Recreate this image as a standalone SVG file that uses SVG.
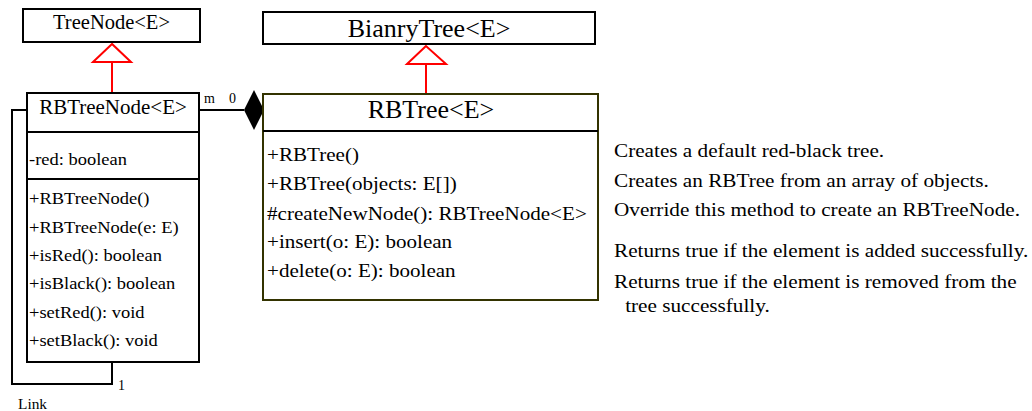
<svg xmlns="http://www.w3.org/2000/svg" width="1032" height="411" viewBox="0 0 1032 411">
<style>
text{font-family:"Liberation Serif","Times New Roman",serif;fill:#000}
.box{fill:#fff;stroke:#000;stroke-width:2}
.olive{fill:#fff;stroke:#333300;stroke-width:2}
.div{stroke:#000;stroke-width:2}
.h1{font-size:20.5px;text-anchor:middle}
.h2{font-size:26px;text-anchor:middle}
.b1{font-size:16.5px}
.b2{font-size:18.5px}
.d{font-size:19px}
.lbl{font-size:14px}
.inh{stroke:#ff0000;stroke-width:2;fill:none}
.tri{stroke:#ff0000;stroke-width:2;fill:#fff}
.ln{stroke:#000;stroke-width:2;fill:none}
</style>
<g id="connectors">
  <line class="inh" x1="112" y1="62" x2="112" y2="93"/>
  <polygon class="tri" points="112,44 93,62 131,62"/>
  <line class="inh" x1="426" y1="64" x2="426" y2="94"/>
  <polygon class="tri" points="426,46 407,64 446,64"/>
  <line class="ln" x1="199" y1="110" x2="244" y2="110"/>
  <polygon points="244,110 254,90 264,110 254,130" fill="#000"/>
  <polyline class="ln" points="27,110 12,110 12,384 112,384 112,362"/>
  <text class="lbl" x="204" y="103">m</text>
  <text class="lbl" x="229" y="103">0</text>
  <text class="lbl" x="118" y="390">1</text>
  <text class="lbl" transform="translate(18,409) scale(1.1,1)">Link</text>
</g>
<g id="node-treenode">
  <rect class="box" x="23" y="9" width="177" height="33"/>
  <text class="h1" x="111.5" y="29">TreeNode&lt;E&gt;</text>
</g>
<g id="node-bianrytree">
  <rect class="box" x="263" y="12" width="332" height="32"/>
  <text class="h2" x="429" y="37">BianryTree&lt;E&gt;</text>
</g>
<g id="node-rbtreenode">
  <rect class="box" x="27" y="93" width="172" height="269"/>
  <line class="div" x1="27" y1="132" x2="199" y2="132"/>
  <line class="div" x1="27" y1="179" x2="199" y2="179"/>
  <text class="h1" x="113" y="114" style="font-size:21px">RBTreeNode&lt;E&gt;</text>
  <g class="b1" transform="translate(29,0) scale(1.12,1)">
    <text x="0" y="165">-red: boolean</text>
    <text x="0" y="204">+RBTreeNode()</text>
    <text x="0" y="233">+RBTreeNode(e: E)</text>
    <text x="0" y="261">+isRed(): boolean</text>
    <text x="0" y="289">+isBlack(): boolean</text>
    <text x="0" y="318">+setRed(): void</text>
    <text x="0" y="346">+setBlack(): void</text>
  </g>
</g>
<g id="node-rbtree">
  <rect class="olive" x="263" y="94" width="335" height="206"/>
  <line class="div" x1="263" y1="131" x2="598" y2="131"/>
  <text class="h2" x="431" y="118">RBTree&lt;E&gt;</text>
  <g class="b2" transform="translate(267,0) scale(1.14,1)">
    <text x="0" y="161">+RBTree()</text>
    <text x="0" y="190">+RBTree(objects: E[])</text>
    <text x="0" y="220">#createNewNode(): RBTreeNode&lt;E&gt;</text>
    <text x="0" y="248">+insert(o: E): boolean</text>
    <text x="0" y="277">+delete(o: E): boolean</text>
  </g>
</g>
<g id="notes" class="d" transform="translate(614,0) scale(1.116,1)">
  <text x="0" y="157">Creates a default red-black tree.</text>
  <text x="0" y="187">Creates an RBTree from an array of objects.</text>
  <text x="0" y="216">Override this method to create an RBTreeNode.</text>
  <text x="0" y="257">Returns true if the element is added successfully.</text>
  <text x="0" y="288">Returns true if the element is removed from the</text>
  <text x="10" y="312">tree successfully.</text>
</g>
</svg>
